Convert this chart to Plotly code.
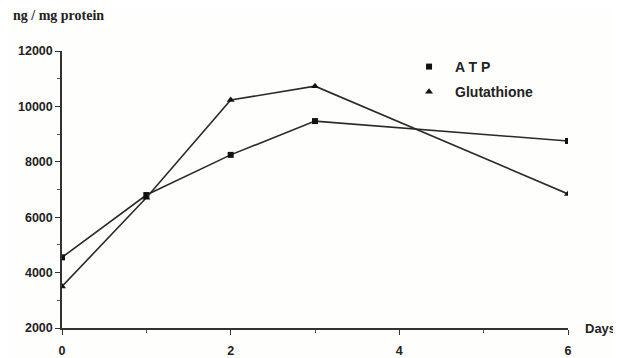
import plotly.graph_objects as go

days = [0, 1, 2, 3, 6]
atp = [4550, 6800, 8250, 9470, 8750]
glutathione = [3500, 6700, 10230, 10730, 6840]

x_ticks = [0, 2, 4, 6]
y_ticks = [2000, 4000, 6000, 8000, 10000, 12000]

line_col = "#2a2a2a"
fig = go.Figure()
fig.add_trace(go.Scatter(x=days, y=atp, mode="lines+markers", name="A T P", showlegend=False,
                         line=dict(color=line_col, width=1.6),
                         marker=dict(symbol="square", size=6, color="#111")))
fig.add_trace(go.Scatter(x=days, y=glutathione, mode="lines+markers", name="Glutathione", showlegend=False,
                         line=dict(color=line_col, width=1.6),
                         marker=dict(symbol="triangle-up", size=7, color="#111")))
# legend-only entries (marker only)
fig.add_trace(go.Scatter(x=[None], y=[None], mode="markers", name="A T P", legendgroup="a",
                         marker=dict(symbol="square", size=6, color="#111")))
fig.add_trace(go.Scatter(x=[None], y=[None], mode="markers", name="Glutathione", legendgroup="b",
                         marker=dict(symbol="triangle-up", size=7, color="#111")))

font_sans = "Liberation Sans, Arial, sans-serif"
fig.update_layout(
    width=613, height=350,
    margin=dict(l=54, r=53, t=43, b=30),
    paper_bgcolor="#fefefc", plot_bgcolor="#fefefc",
    showlegend=True,
    legend=dict(x=0.674, y=1.0, xanchor="left", yanchor="top", bgcolor="rgba(0,0,0,0)",
                font=dict(family=font_sans, size=14, color="#222", weight="bold"),
                itemwidth=42, tracegroupgap=4, traceorder="grouped"),
    xaxis=dict(range=[0, 6], tickvals=x_ticks, ticktext=[str(v) for v in x_ticks],
               automargin=False,
               showgrid=False, zeroline=False, showline=True, linecolor="#333", linewidth=1.5,
               ticks="outside", ticklen=5, tickwidth=1.2, tickcolor="#333",
               minor=dict(dtick=1, ticks="outside", ticklen=3, tickcolor="#555"),
               tickfont=dict(family=font_sans, size=12.5, color="#222", weight="bold"),
               ticklabelstandoff=5),
    yaxis=dict(range=[2000, 12000], tickvals=y_ticks, ticktext=[str(v) for v in y_ticks],
               automargin=False,
               showgrid=False, zeroline=False, showline=True, linecolor="#333", linewidth=1.5,
               ticks="outside", ticklen=5, tickwidth=1.2, tickcolor="#333",
               minor=dict(dtick=1000, ticks="outside", ticklen=3, tickcolor="#555"),
               tickfont=dict(family=font_sans, size=12.5, color="#222", weight="bold")),
    annotations=[
        dict(text="ng / mg protein", xref="paper", yref="paper", x=-0.1, y=1.0, yshift=36,
             xanchor="left", yanchor="middle", showarrow=False,
             font=dict(family="Liberation Serif, Times New Roman, serif", size=14, color="#222", weight="bold")),
        dict(text="Days", xref="paper", yref="paper", x=1.0, y=0, xshift=15, yanchor="middle",
             xanchor="left", showarrow=False,
             font=dict(family=font_sans, size=13, color="#222", weight="bold")),
    ],
)
fig.write_html("out.html")
